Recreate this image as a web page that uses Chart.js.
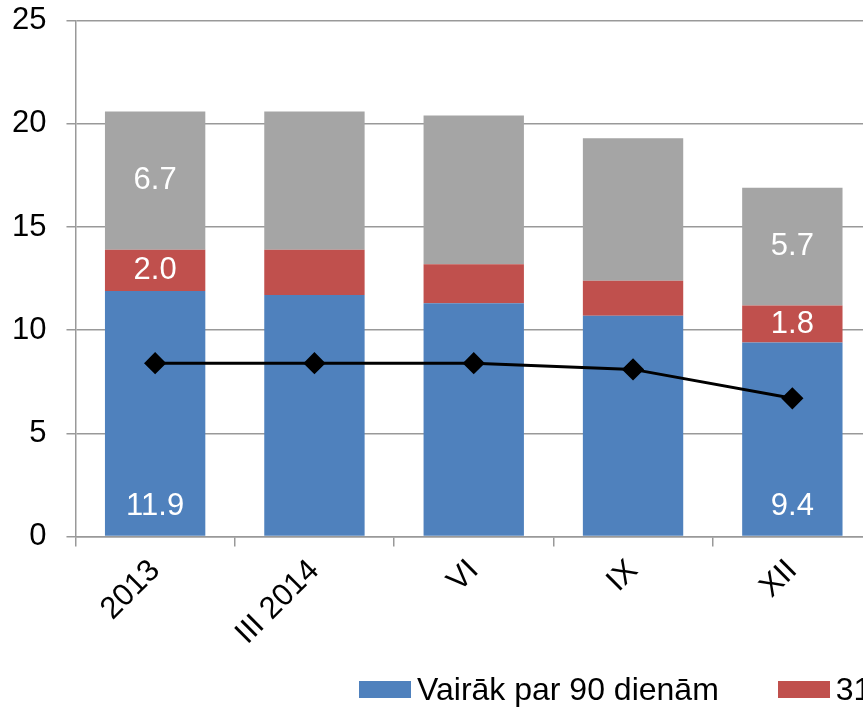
<!DOCTYPE html>
<html>
<head>
<meta charset="utf-8">
<script src="https://cdn.jsdelivr.net/npm/chart.js@4/dist/chart.umd.min.js"></script>
<style>
  html, body { margin: 0; padding: 0; background: #fff; overflow: hidden; width: 863px; height: 709px; }
  #wrap { position: relative; width: 863px; height: 709px; overflow: hidden; }
  #myChart { position: absolute; left: -22px; top: -18px; }
  #legend { position: absolute; left: 359px; top: 671px; display: flex; white-space: nowrap;
            font: 32px "Liberation Sans", Arial, sans-serif; color: #000; }
  .item { display: flex; align-items: center; margin-right: 59px; }
  .box { width: 52px; height: 17px; margin-right: 6px; }
</style>
</head>
<body>
<div id="wrap">
  <canvas id="myChart" width="922" height="727"></canvas>
  <div id="legend"></div>
</div>
<script>
const labels = ['2013', 'III 2014', 'VI', 'IX', 'XII'];
const over90 = [11.9, 11.7, 11.3, 10.7, 9.4];
const days31to90 = [2.0, 2.2, 1.9, 1.7, 1.8];
const upTo30 = [6.7, 6.7, 7.2, 6.9, 5.7];
const lineValues = [8.4, 8.4, 8.4, 8.1, 6.7];
const labelledBars = [0, 4]; // only first and last bar carry values

const ctx = document.getElementById('myChart').getContext('2d');
Chart.defaults.font.family = '"Liberation Sans", Arial, sans-serif';
Chart.defaults.font.size = 31;
Chart.defaults.color = '#000';

// white value labels inside the stacked segments
const segLabels = {
    id: 'segLabels',
    afterDatasetsDraw(chart) {
        const c = chart.ctx;
        c.save();
        c.font = '31px "Liberation Sans", Arial, sans-serif';
        c.fillStyle = '#fff';
        c.textAlign = 'center';
        c.textBaseline = 'middle';
        chart.data.datasets.forEach((ds, i) => {
            if (ds.type === 'line') return;
            chart.getDatasetMeta(i).data.forEach((bar, j) => {
                if (!labelledBars.includes(j)) return;
                const y = i === 0 ? bar.base - 29 : (bar.y + bar.base) / 2;
                c.fillText(ds.data[j].toFixed(1), bar.x, y);
            });
        });
        c.restore();
    }
};

const myChart = new Chart(ctx, {
    type: 'bar',
    data: {
        labels: labels,
        datasets: [
            { label: 'Vairāk par 90 dienām', data: over90, backgroundColor: '#4F81BD', stack: 'a', order: 1,
              barPercentage: 0.63, categoryPercentage: 1 },
            { label: '31–90 dienas', data: days31to90, backgroundColor: '#C0504D', stack: 'a', order: 1,
              barPercentage: 0.63, categoryPercentage: 1 },
            { label: 'Līdz 30 dienām', data: upTo30, backgroundColor: '#A5A5A5', stack: 'a', order: 1,
              barPercentage: 0.63, categoryPercentage: 1 },
            { type: 'line', label: 'Kopā', data: lineValues, stack: 'line', order: 0,
              borderColor: '#000', backgroundColor: '#000', borderWidth: 3,
              pointStyle: 'rectRot', pointRadius: 9, pointBackgroundColor: '#000', tension: 0 }
        ]
    },
    options: {
        responsive: false,
        animation: false,
        layout: { padding: { left: 14, right: 28, top: 0, bottom: 51 } },
        plugins: { legend: { display: false }, tooltip: { enabled: false } },
        scales: {
            x: {
                stacked: true,
                grid: { drawOnChartArea: false, drawTicks: true, tickLength: 10, color: '#999', lineWidth: 1.5 },
                border: { color: '#999', width: 1.5 },
                ticks: { maxRotation: 45, minRotation: 45, padding: 6 }
            },
            y: {
                stacked: true,
                min: 0,
                max: 25,
                ticks: { stepSize: 5, padding: 20 },
                grid: { color: '#999', lineWidth: 1.5, tickLength: 9 },
                border: { color: '#999', width: 1.5 }
            }
        }
    },
    plugins: [segLabels]
});

// legend below the chart (the original is cut off on the right)
const legend = document.getElementById('legend');
myChart.data.datasets.forEach(ds => {
    const item = document.createElement('div');
    item.className = 'item';
    const box = document.createElement('span');
    box.className = 'box';
    box.style.background = ds.backgroundColor;
    item.appendChild(box);
    item.appendChild(document.createTextNode(ds.label));
    legend.appendChild(item);
});
</script>
</body>
</html>
